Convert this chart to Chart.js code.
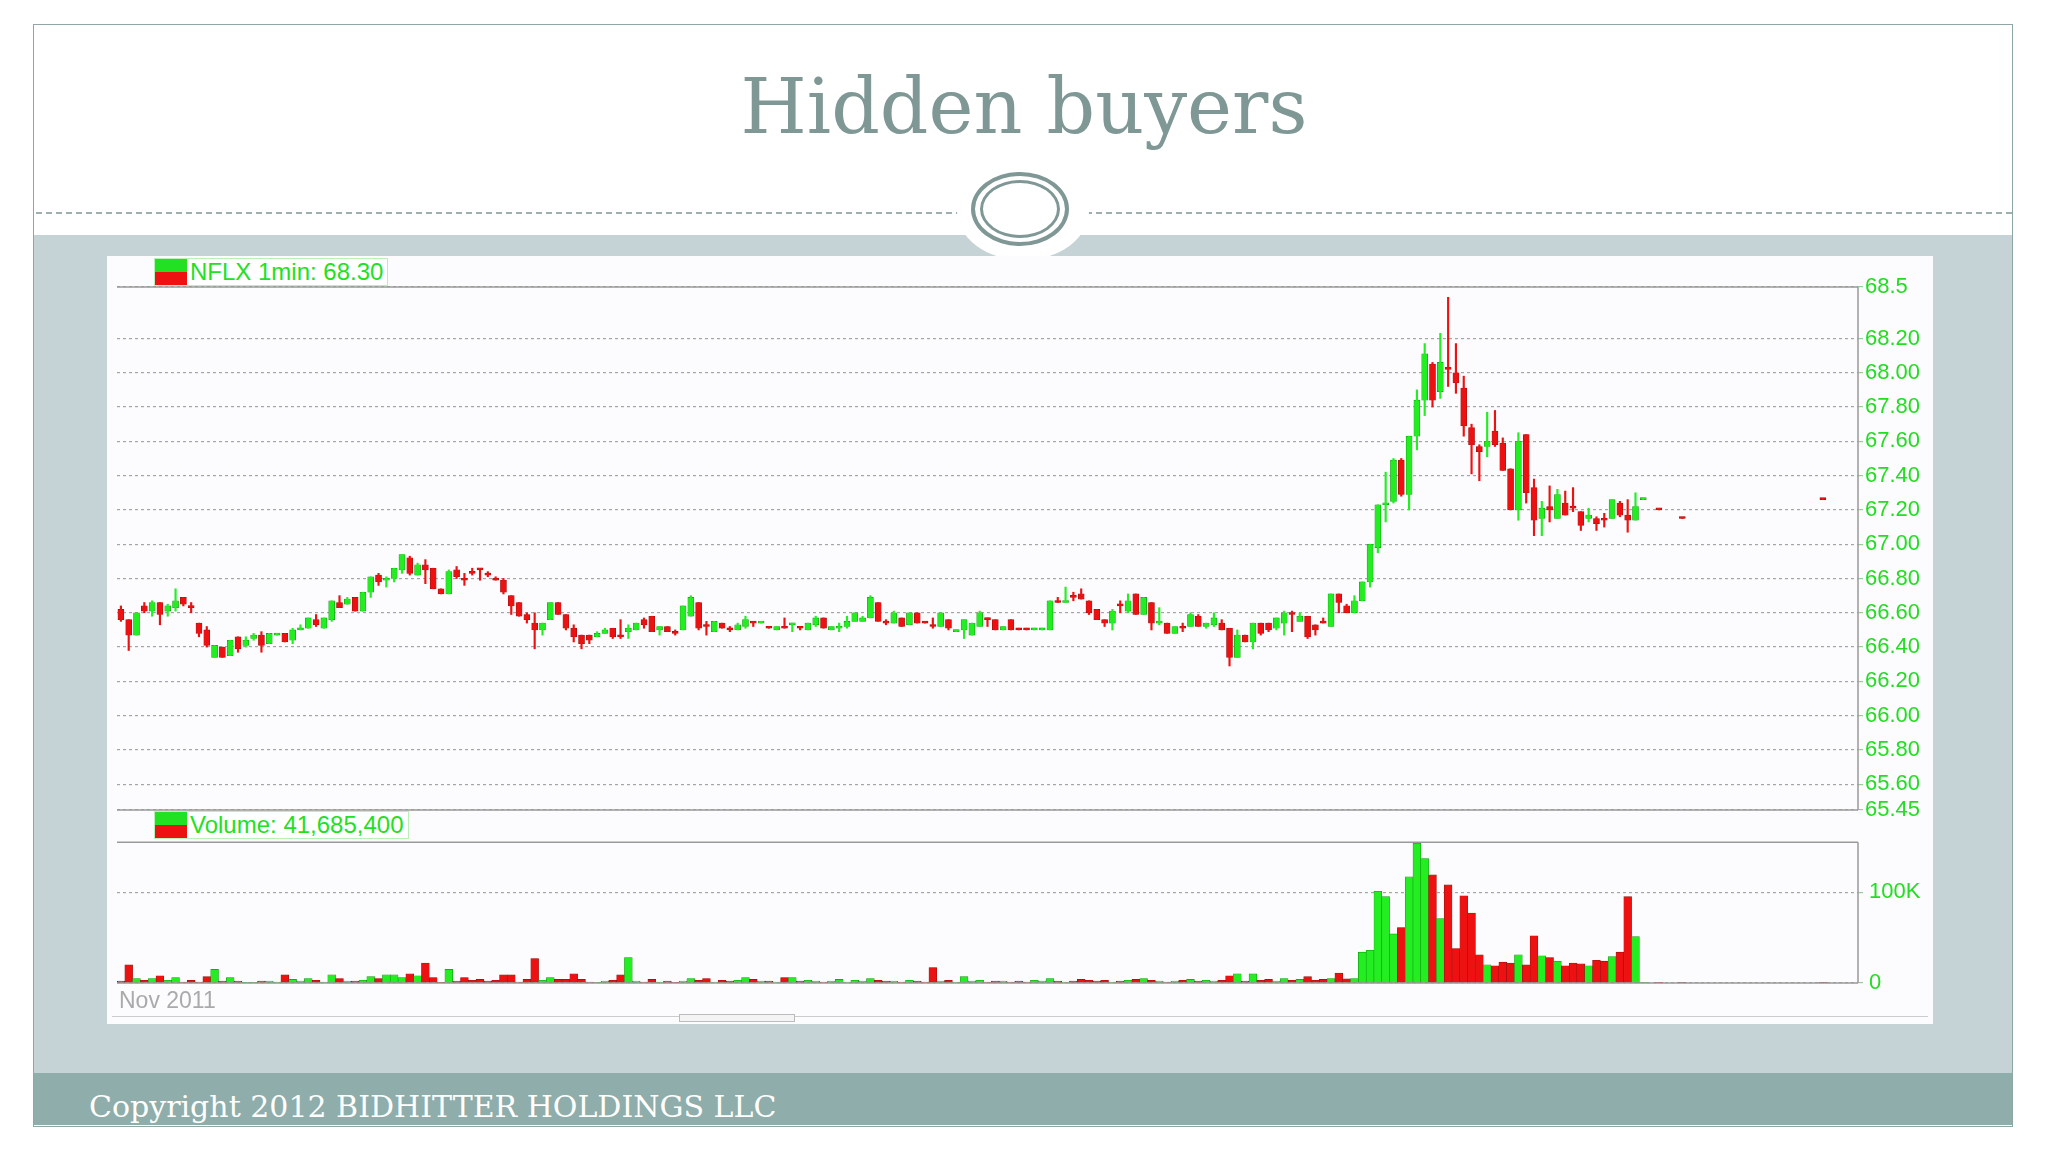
<!DOCTYPE html>
<html>
<head>
<title>Hidden buyers</title>
<script src="https://cdn.jsdelivr.net/npm/chart.js"></script>
<style>
    body { margin: 0; width: 2048px; height: 1152px; background: #fff; position: relative; overflow: hidden; font-family: Arial, 'Liberation Sans', sans-serif; }
    .abs { position: absolute; }
    #frame { left: 33px; top: 24px; width: 1978px; height: 1101px; border: 1px solid #8fa6a4; }
    #title { left: 0; width: 2048px; top: 62px; text-align: center; font-family: Georgia, 'DejaVu Serif', serif; font-size: 76px; color: #7f9895; }
    #dash { left: 36px; width: 1976px; top: 212px; border-top: 2px dashed #9db0ae; }
    #band { left: 34px; width: 1978px; top: 235px; height: 838px; background: #c5d3d6; }
    #foot { left: 34px; width: 1978px; top: 1073px; height: 52px; background: #8fadaa; }
    #foot span { position: absolute; left: 55px; top: 16px; font-family: Georgia, 'DejaVu Serif', serif; font-size: 30px; color: #fff; }
    #orn { left: 957px; top: 162px; width: 132px; height: 98px; border-radius: 50%; background: #fff; }
    #ring1 { left: 971px; top: 172px; width: 98px; height: 74px; border-radius: 50%; border: 4px solid #7f9895; box-sizing: border-box; }
    #ring2 { left: 980px; top: 180px; width: 80px; height: 58px; border-radius: 50%; border: 3px solid #7f9895; box-sizing: border-box; }
    #panel { left: 107px; top: 256px; width: 1826px; height: 768px; background: #fcfcfe; }
    .lbl { height: 26px; border: 1px solid #b8f0b8; background: #fff; font-size: 24px; color: #22e022; line-height: 26px; padding-right: 4px; white-space: nowrap; }
    .sw { display: inline-block; vertical-align: top; width: 32px; height: 26px; margin-right: 3px; background: linear-gradient(#22e022 50%, #ee1111 50%); }
    #nov { left: 119px; top: 987px; font-size: 23px; color: #aaa; }
    #scroll { left: 112px; top: 1016px; width: 1816px; border-top: 1px solid #ccc; }
    #thumb { left: 679px; top: 1014px; width: 114px; height: 6px; border: 1px solid #bbb; background: #f4f4f4; }
</style>
</head>
<body>
<div id="frame" class="abs"></div>
<div id="band" class="abs"></div>
<div id="foot" class="abs"><span>Copyright 2012 BIDHITTER HOLDINGS LLC</span></div>
<div id="dash" class="abs"></div>
<div id="title" class="abs">Hidden buyers</div>
<div id="orn" class="abs"></div>
<div id="ring1" class="abs"></div>
<div id="ring2" class="abs"></div>
<div id="panel" class="abs"></div>
<canvas id="priceChart" class="abs" style="left:107px;top:256px" width="1826" height="580"></canvas>
<canvas id="volChart" class="abs" style="left:107px;top:823px" width="1826" height="201"></canvas>
<div class="abs lbl" style="left:154px;top:258px"><span class="sw"></span>NFLX 1min: 68.30</div>
<div class="abs lbl" style="left:154px;top:811px"><span class="sw"></span>Volume: 41,685,400</div>
<div id="nov" class="abs">Nov 2011</div>
<div id="scroll" class="abs"></div>
<div id="thumb" class="abs"></div>

<script>
    // 1-minute candles, index = minute slot
    const open = [
        66.62,66.56,66.47,66.64,66.61,66.66,66.61,66.63,66.69,66.64,
        66.54,66.50,66.34,66.40,66.35,66.46,66.41,66.45,66.47,66.42,
        66.47,66.48,66.44,66.50,66.51,66.56,66.51,66.56,66.66,66.65,
        66.69,66.61,66.72,66.82,66.79,66.80,66.85,66.92,66.82,66.88,
        66.86,66.74,66.71,66.85,66.80,66.84,66.85,66.83,66.80,66.79,
        66.70,66.66,66.59,66.54,66.50,66.56,66.66,66.59,66.51,66.47,
        66.47,66.46,66.48,66.51,66.47,66.49,66.50,66.56,66.58,66.50,
        66.52,66.48,66.50,66.58,66.66,66.53,66.49,66.54,66.51,66.50,
        66.52,66.55,66.54,66.52,66.50,66.52,66.53,66.52,66.50,66.53,
        66.57,66.50,66.51,66.52,66.55,66.55,66.57,66.66,66.55,66.54,
        66.57,66.53,66.60,66.54,66.53,66.52,66.56,66.49,66.50,66.47,
        66.52,66.56,66.56,66.50,66.56,66.50,66.50,66.50,66.50,66.50,
        66.67,66.66,66.70,66.71,66.67,66.62,66.56,66.54,66.65,66.61,
        66.71,66.59,66.66,66.54,66.54,66.48,66.52,66.52,66.58,66.52,
        66.53,66.54,66.51,66.34,66.47,66.43,66.54,66.54,66.51,66.54,
        66.60,66.55,66.58,66.53,66.55,66.52,66.71,66.64,66.60,66.67,
        66.78,66.98,67.23,67.25,67.49,67.29,67.63,67.84,68.05,67.89,
        68.03,68.00,67.91,67.68,67.57,67.57,67.66,67.59,67.44,67.20,
        67.64,67.33,67.15,67.22,67.15,67.24,67.22,67.19,67.15,67.15,
        67.15,67.15,67.24,67.17,67.14,67.26,null,67.20,null,null,
        67.15,null,null,null,null,null,null,null,null,null,
        null,null,null,null,null,null,null,null,67.26
    ];
    const high = [
        66.64,66.56,66.60,66.66,66.67,66.66,66.65,66.74,66.69,66.66,
        66.54,66.52,66.41,66.40,66.44,66.46,66.46,66.48,66.49,66.48,
        66.48,66.48,66.51,66.53,66.57,66.59,66.57,66.67,66.70,66.69,
        66.69,66.72,66.81,66.83,66.81,66.86,66.94,66.93,66.89,66.91,
        66.86,66.74,66.85,66.87,66.83,66.86,66.85,66.84,66.81,66.80,
        66.70,66.66,66.60,66.60,66.54,66.66,66.66,66.59,66.53,66.47,
        66.47,66.49,66.51,66.51,66.56,66.53,66.54,66.57,66.58,66.52,
        66.52,66.50,66.64,66.70,66.66,66.55,66.55,66.54,66.52,66.54,
        66.58,66.55,66.55,66.52,66.52,66.57,66.54,66.52,66.54,66.58,
        66.57,66.52,66.54,66.58,66.60,66.58,66.70,66.66,66.56,66.61,
        66.57,66.60,66.60,66.55,66.57,66.60,66.56,66.50,66.56,66.54,
        66.61,66.57,66.56,66.52,66.56,66.51,66.51,66.51,66.51,66.67,
        66.69,66.75,66.72,66.74,66.67,66.62,66.56,66.62,66.67,66.71,
        66.71,66.69,66.66,66.63,66.54,66.52,66.54,66.60,66.59,66.54,
        66.60,66.56,66.51,66.50,66.47,66.54,66.54,66.54,66.57,66.61,
        66.61,66.60,66.58,66.53,66.57,66.71,66.71,66.65,66.70,66.78,
        67.00,67.23,67.42,67.50,67.50,67.63,67.90,68.17,68.06,68.23,
        68.44,68.17,67.98,67.70,67.58,67.77,67.78,67.62,67.44,67.65,
        67.64,67.38,67.25,67.34,67.32,67.31,67.33,67.19,67.21,67.16,
        67.18,67.26,67.25,67.26,67.30,67.27,null,67.20,null,null,
        67.15,null,null,null,null,null,null,null,null,null,
        null,null,null,null,null,null,null,null,67.26
    ];
    const low = [
        66.55,66.38,66.47,66.60,66.58,66.53,66.58,66.61,66.64,66.60,
        66.46,66.40,66.34,66.34,66.35,66.37,66.40,66.44,66.37,66.42,
        66.47,66.43,66.42,66.50,66.51,66.52,66.51,66.55,66.63,66.65,
        66.61,66.61,66.69,66.76,66.75,66.78,66.83,66.82,66.82,66.77,
        66.74,66.71,66.71,66.80,66.76,66.82,66.79,66.81,66.79,66.71,
        66.59,66.58,66.54,66.39,66.47,66.56,66.59,66.50,66.43,66.39,
        66.42,66.46,66.48,66.45,66.45,66.45,66.50,66.51,66.49,66.47,
        66.49,66.47,66.50,66.58,66.50,66.47,66.49,66.51,66.49,66.50,
        66.51,66.52,66.54,66.51,66.50,66.51,66.49,66.50,66.50,66.52,
        66.51,66.50,66.49,66.51,66.55,66.55,66.57,66.55,66.53,66.54,
        66.52,66.53,66.54,66.54,66.51,66.52,66.50,66.49,66.45,66.47,
        66.52,66.52,66.50,66.50,66.50,66.50,66.50,66.50,66.50,66.50,
        66.66,66.66,66.67,66.68,66.59,66.56,66.52,66.50,66.60,66.60,
        66.59,66.59,66.50,66.53,66.48,66.48,66.49,66.52,66.52,66.51,
        66.52,66.50,66.29,66.34,66.43,66.39,66.47,66.49,66.50,66.47,
        66.49,66.55,66.45,66.47,66.54,66.52,66.60,66.60,66.60,66.67,
        66.75,66.95,67.13,67.24,67.28,67.20,67.55,67.75,67.80,67.85,
        67.92,67.88,67.63,67.41,67.37,67.51,67.57,67.43,67.20,67.14,
        67.24,67.05,67.05,67.13,67.15,67.17,67.19,67.08,67.13,67.08,
        67.10,67.15,67.16,67.07,67.14,67.26,null,67.20,null,null,
        67.15,null,null,null,null,null,null,null,null,null,
        null,null,null,null,null,null,null,null,67.26
    ];
    const close = [
        66.56,66.47,66.60,66.61,66.66,66.59,66.64,66.67,66.65,66.63,
        66.48,66.41,66.41,66.34,66.44,66.39,66.44,66.47,66.41,66.48,
        66.48,66.43,66.50,66.51,66.57,66.53,66.57,66.67,66.63,66.68,
        66.61,66.72,66.81,66.78,66.80,66.86,66.94,66.83,66.88,66.85,
        66.74,66.71,66.84,66.81,66.79,66.83,66.85,66.82,66.79,66.72,
        66.64,66.58,66.56,66.50,66.54,66.66,66.59,66.51,66.46,66.42,
        66.44,66.48,66.50,66.46,66.46,66.51,66.54,66.53,66.49,66.52,
        66.49,66.48,66.64,66.69,66.51,66.52,66.55,66.51,66.50,66.53,
        66.56,66.54,66.55,66.51,66.52,66.51,66.54,66.51,66.54,66.57,
        66.51,66.52,66.52,66.55,66.60,66.57,66.69,66.55,66.54,66.60,
        66.52,66.60,66.54,66.54,66.52,66.60,66.51,66.50,66.56,66.54,
        66.60,66.56,66.50,66.52,66.50,66.50,66.50,66.51,66.51,66.67,
        66.66,66.67,66.69,66.68,66.60,66.56,66.54,66.61,66.64,66.67,
        66.59,66.69,66.54,66.55,66.48,66.52,66.51,66.59,66.52,66.54,
        66.57,66.50,66.34,66.47,66.43,66.54,66.48,66.50,66.57,66.60,
        66.59,66.58,66.46,66.50,66.54,66.71,66.66,66.60,66.67,66.78,
        67.00,67.23,67.24,67.49,67.29,67.63,67.84,68.11,67.84,68.06,
        68.02,67.94,67.69,67.58,67.54,67.60,67.58,67.43,67.20,67.60,
        67.30,67.14,67.21,67.20,67.29,67.17,67.21,67.11,67.17,67.12,
        67.14,67.26,67.17,67.14,67.22,67.27,null,67.20,null,null,
        67.15,null,null,null,null,null,null,null,null,null,
        null,null,null,null,null,null,null,null,67.26
    ];
    // volume in thousands of shares
    const volumeK = [
        2,20,5,3,5,8,3,6,1,3,
        1,7,15,2,6,2,0.5,0.5,2,2,
        1,9,4,2,5,3,1,9,5,2,
        2,3,7,5,9,9,6,10,8,22,
        6,0.5,15,2,6,3,4,2,3,9,
        9,1,4,27,3,6,4,4,10,4,
        1,0.5,2,3,9,28,2,1,4,1,
        2,0.5,2,5,3,5,1,3,2,3,
        6,4,2,2,1,6,6,2,3,2,
        1,2,4,1,3,2,5,3,2,2,
        1,3,2,1,17,2,3,1,7,2,
        3,1,2,2,1,2,1,3,2,5,
        2,1,2,4,3,2,3,1,2,3,
        4,5,3,2,1,2,3,4,2,3,
        2,3,8,10,2,10,3,4,2,5,
        3,4,7,3,4,5,11,4.6,5,34,
        36,101,95,54,61,117,154,137,119,71,
        108,38,96,77,31,20,19,23,22,31,
        20,52,30,28,24,19,22,21,19,25,
        24,29,34,95,51,0.5,null,0.5,null,null,
        0.5,null,null,null,null,null,null,null,null,null,
        null,null,null,null,null,null,null,null,0.3
    ];
    const slots = 223;
    const priceTicks = [68.5, 68.2, 68.0, 67.8, 67.6, 67.4, 67.2, 67.0, 66.8, 66.6, 66.4, 66.2, 66.0, 65.8, 65.6, 65.45];
    const volTicks = [0, 100000];

    const labels = [];
    for (let i = 0; i < slots; i++) labels.push(String(i));

    const up = close.map((c, i) => c != null && c > open[i]);
    const fillCol = up.map(u => u ? '#22ee22' : '#ee1111');
    const edgeCol = up.map(u => u ? '#119911' : '#991111');

    // solid frame lines and right axis line
    const frameLines = {
        id: 'frameLines',
        afterDraw(chart) {
            const a = chart.chartArea, ctx = chart.ctx;
            ctx.save();
            ctx.strokeStyle = '#999';
            ctx.lineWidth = 1.5;
            ctx.beginPath();
            ctx.moveTo(a.left, a.top); ctx.lineTo(a.right, a.top);
            ctx.moveTo(a.left, a.bottom); ctx.lineTo(a.right, a.bottom);
            ctx.moveTo(a.right, a.top); ctx.lineTo(a.right, a.bottom);
            ctx.stroke();
            ctx.restore();
        }
    };

    const gridStyle = { color: '#a5a5a5', lineWidth: 1.2, tickLength: 5, tickColor: '#9c9' };
    const tickFont = { family: 'Arial, Liberation Sans', size: 22 };

    new Chart(document.getElementById('priceChart'), {
        type: 'bar',
        data: {
            labels: labels,
            datasets: [{
                data: high.map((h, i) => h == null ? null : [low[i], h]),
                backgroundColor: fillCol,
                barThickness: 1.5,
                grouped: false,
                minBarLength: 1
            }, {
                data: open.map((o, i) => o == null ? null : [o, close[i]]),
                backgroundColor: fillCol,
                borderColor: edgeCol,
                borderWidth: 0.6,
                borderSkipped: false,
                barThickness: 6,
                grouped: false,
                minBarLength: 2
            }]
        },
        options: {
            responsive: false,
            animation: false,
            devicePixelRatio: 1,
            layout: { padding: { left: 10, right: 0, top: 31, bottom: 26 } },
            plugins: { legend: { display: false }, tooltip: { enabled: false } },
            scales: {
                x: { display: false, offset: true },
                y: {
                    position: 'right',
                    min: 65.45,
                    max: 68.5,
                    afterBuildTicks: s => { s.ticks = priceTicks.map(v => ({ value: v })); },
                    afterFit: s => { s.width = 75; },
                    grid: gridStyle,
                    border: { display: false, dash: [3, 3] },
                    ticks: {
                        color: '#22dd22', font: tickFont, padding: 2,
                        callback: v => (v === 68.5 ? '68.5' : v.toFixed(2))
                    }
                }
            }
        },
        plugins: [frameLines]
    });

    new Chart(document.getElementById('volChart'), {
        type: 'bar',
        data: {
            labels: labels,
            datasets: [{
                data: volumeK.map(v => v == null ? null : v * 1000),
                backgroundColor: fillCol,
                borderColor: edgeCol,
                borderWidth: 0.6,
                borderSkipped: false,
                barPercentage: 1,
                categoryPercentage: 1
            }]
        },
        options: {
            responsive: false,
            animation: false,
            devicePixelRatio: 1,
            layout: { padding: { left: 10, right: 0, top: 4, bottom: 41 } },
            plugins: { legend: { display: false }, tooltip: { enabled: false } },
            scales: {
                x: { display: false, offset: true },
                y: {
                    position: 'right',
                    min: 0,
                    max: 155000,
                    afterBuildTicks: s => { s.ticks = volTicks.map(v => ({ value: v })); },
                    afterFit: s => { s.width = 75; },
                    grid: gridStyle,
                    border: { display: false, dash: [3, 3] },
                    ticks: {
                        color: '#22dd22', font: tickFont, padding: 6,
                        callback: v => (v === 0 ? '0' : (v / 1000) + 'K')
                    }
                }
            }
        },
        plugins: [frameLines]
    });
</script>
</body>
</html>
